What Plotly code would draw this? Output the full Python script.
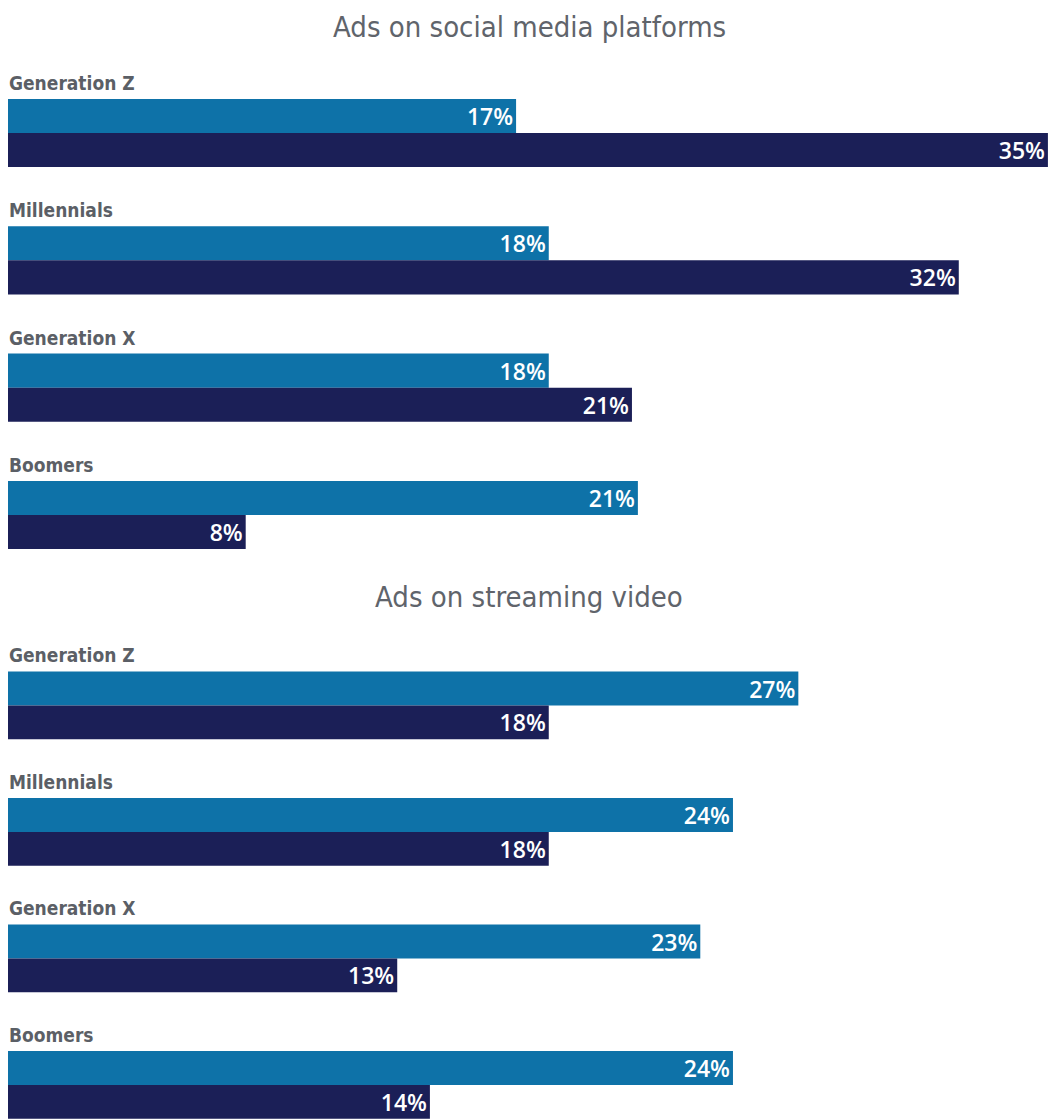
import plotly.graph_objects as go

generations = ["Generation Z", "Millennials", "Generation X", "Boomers"]

social_blue_values = [17.1, 18.2, 18.2, 21.2]
social_blue_labels = ["17%", "18%", "18%", "21%"]
social_navy_values = [35.0, 32.0, 21.0, 8.0]
social_navy_labels = ["35%", "32%", "21%", "8%"]

stream_blue_values = [26.6, 24.4, 23.3, 24.4]
stream_blue_labels = ["27%", "24%", "23%", "24%"]
stream_navy_values = [18.2, 18.2, 13.1, 14.2]
stream_navy_labels = ["18%", "18%", "13%", "14%"]

titles = ["Ads on social media platforms", "Ads on streaming video"]

BLUE = "#0e72a8"
NAVY = "#1b1f57"
GREY = "#5b5f66"
W, H = 1050, 1120

fig = go.Figure()

def add_bars(vals, labels, color, ax, ay):
    fig.add_trace(go.Bar(
        x=vals, y=generations, text=labels, orientation="h",
        marker=dict(color=color, line=dict(width=0)),
        textposition="inside", insidetextanchor="end",
        insidetextfont=dict(family="Open Sans", size=23, color="white", weight=600),
        constraintext="none", cliponaxis=False,
        xaxis=ax, yaxis=ay, showlegend=False, hoverinfo="skip",
    ))

add_bars(social_blue_values, social_blue_labels, BLUE, "x", "y")
add_bars(social_navy_values, social_navy_labels, NAVY, "x", "y")
add_bars(stream_blue_values, stream_blue_labels, BLUE, "x2", "y2")
add_bars(stream_navy_values, stream_navy_labels, NAVY, "x2", "y2")

hidden = dict(showgrid=False, zeroline=False, showticklabels=False, showline=False, ticks="")
fig.update_layout(
    width=W, height=H,
    margin=dict(l=8, r=0, t=0, b=0),
    paper_bgcolor="white", plot_bgcolor="white",
    barmode="group", bargap=0.4646, bargroupgap=0,
    xaxis=dict(domain=[0, 1], range=[0, 35.07], anchor="y", **hidden),
    xaxis2=dict(domain=[0, 1], range=[0, 35.07], anchor="y2", **hidden),
    yaxis=dict(domain=[0.4833, 0.9381], type="category", categoryorder="array",
               categoryarray=generations, range=[3.5, -0.5], anchor="x", **hidden),
    yaxis2=dict(domain=[0, 0.4266], type="category", categoryorder="array",
                categoryarray=generations, range=[3.277, -0.5], anchor="x2", **hidden),
)

label_font = dict(family="DejaVu Sans Condensed, Liberation Sans Narrow, Roboto", size=19, color=GREY, weight="bold")
for ay in ["y", "y2"]:
    for g in generations:
        fig.add_annotation(text=g, xref="paper", x=0, xanchor="left", yref=ay, y=g,
                           yanchor="middle", yshift=50, showarrow=False, font=label_font,
                           borderpad=0)

title_font = dict(family="DejaVu Sans Condensed, Liberation Sans Narrow, Roboto", size=29, color="#60646b", weight=300)
for t, py in zip(titles, [27, 597]):
    fig.add_annotation(text=t, xref="paper", x=0.5, xanchor="center", yref="paper",
                       y=1 - py / H, yanchor="middle", showarrow=False, font=title_font)

fig.write_html("out.html")
